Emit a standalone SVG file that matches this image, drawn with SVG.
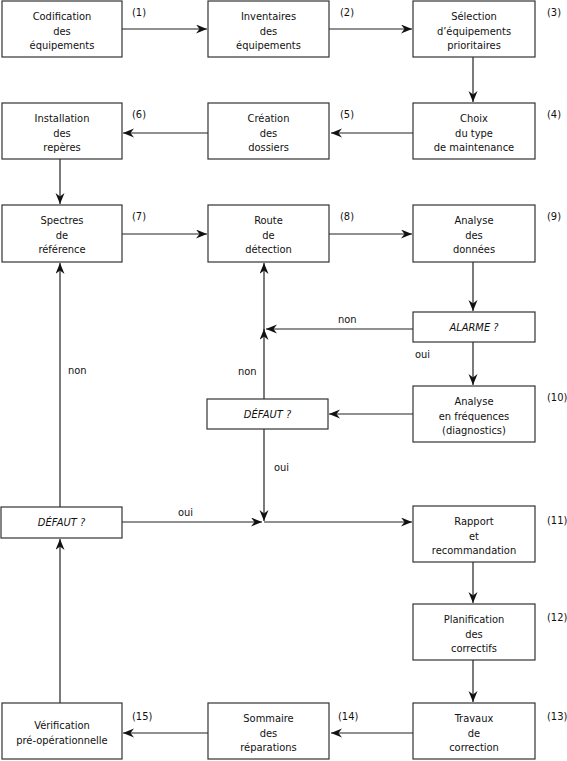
<svg xmlns="http://www.w3.org/2000/svg" width="567" height="761" viewBox="0 0 567 761">
<style>
.b{fill:#fff;stroke:#333;stroke-width:1.2}
text{font-family:"DejaVu Sans Condensed","DejaVu Sans",sans-serif;font-size:11px;fill:#111}
.c{text-anchor:middle}
.i{font-style:italic}
.l{fill:none;stroke:#222;stroke-width:1.2}
</style>
<defs>
<marker id="a" markerWidth="12" markerHeight="10" refX="11" refY="4.5" orient="auto" markerUnits="userSpaceOnUse">
<path d="M0,0 L11,4.5 L0,9 L3.5,4.5 Z" fill="#111"/>
</marker>
</defs>
<rect width="567" height="761" fill="#fff"/>
<g id="connectors">
<line class="l" x1="122" y1="29" x2="207" y2="29" marker-end="url(#a)"/>
<line class="l" x1="329" y1="29" x2="412" y2="29" marker-end="url(#a)"/>
<line class="l" x1="473" y1="57" x2="473" y2="102" marker-end="url(#a)"/>
<line class="l" x1="413" y1="133" x2="331" y2="133" marker-end="url(#a)"/>
<line class="l" x1="208" y1="133" x2="123" y2="133" marker-end="url(#a)"/>
<line class="l" x1="60" y1="159" x2="60" y2="204" marker-end="url(#a)"/>
<line class="l" x1="122" y1="234" x2="207" y2="234" marker-end="url(#a)"/>
<line class="l" x1="329" y1="234" x2="412" y2="234" marker-end="url(#a)"/>
<line class="l" x1="473" y1="262" x2="473" y2="311" marker-end="url(#a)"/>
<line class="l" x1="413" y1="329" x2="266" y2="329" marker-end="url(#a)"/>
<text x="338" y="323">non</text>
<line class="l" x1="473" y1="342" x2="473" y2="385" marker-end="url(#a)"/>
<text x="415" y="358">oui</text>
<line class="l" x1="413" y1="414" x2="329" y2="414" marker-end="url(#a)"/>
<line class="l" x1="264" y1="399" x2="264" y2="329" marker-end="url(#a)"/>
<line class="l" x1="264" y1="330" x2="264" y2="263" marker-end="url(#a)"/>
<text x="238" y="375">non</text>
<line class="l" x1="264" y1="429" x2="264" y2="521" marker-end="url(#a)"/>
<text x="274" y="471">oui</text>
<line class="l" x1="264" y1="522" x2="412" y2="522" marker-end="url(#a)"/>
<line class="l" x1="122" y1="522" x2="262" y2="522" marker-end="url(#a)"/>
<text x="178" y="516">oui</text>
<line class="l" x1="60" y1="507" x2="60" y2="263" marker-end="url(#a)"/>
<text x="68" y="374">non</text>
<line class="l" x1="60" y1="703" x2="60" y2="539" marker-end="url(#a)"/>
<line class="l" x1="473" y1="562" x2="473" y2="603" marker-end="url(#a)"/>
<line class="l" x1="473" y1="660" x2="473" y2="702" marker-end="url(#a)"/>
<line class="l" x1="413" y1="733" x2="331" y2="733" marker-end="url(#a)"/>
<line class="l" x1="208" y1="733" x2="123" y2="733" marker-end="url(#a)"/>
</g>
<g id="n1"><rect class="b" x="2" y="1" width="120" height="56"/><text class="c" x="62" y="20">Codification</text><text class="c" x="62" y="34.5">des</text><text class="c" x="62" y="49">équipements</text><text x="132" y="16">(1)</text></g>
<g id="n2"><rect class="b" x="208" y="1" width="121" height="56"/><text class="c" x="268.5" y="20">Inventaires</text><text class="c" x="268.5" y="34.5">des</text><text class="c" x="268.5" y="49">équipements</text><text x="340" y="16">(2)</text></g>
<g id="n3"><rect class="b" x="413" y="1" width="122" height="56"/><text class="c" x="474" y="20">Sélection</text><text class="c" x="474" y="34.5">d’équipements</text><text class="c" x="474" y="49">prioritaires</text><text x="547" y="16">(3)</text></g>
<g id="n4"><rect class="b" x="413" y="103" width="122" height="56"/><text class="c" x="474" y="122">Choix</text><text class="c" x="474" y="136.5">du type</text><text class="c" x="474" y="151">de maintenance</text><text x="547" y="118">(4)</text></g>
<g id="n5"><rect class="b" x="208" y="103" width="121" height="56"/><text class="c" x="268.5" y="122">Création</text><text class="c" x="268.5" y="136.5">des</text><text class="c" x="268.5" y="151">dossiers</text><text x="340" y="118">(5)</text></g>
<g id="n6"><rect class="b" x="2" y="103" width="120" height="56"/><text class="c" x="62" y="122">Installation</text><text class="c" x="62" y="136.5">des</text><text class="c" x="62" y="151">repères</text><text x="132" y="118">(6)</text></g>
<g id="n7"><rect class="b" x="2" y="205" width="120" height="57"/><text class="c" x="62" y="224">Spectres</text><text class="c" x="62" y="238.5">de</text><text class="c" x="62" y="253">référence</text><text x="132" y="220">(7)</text></g>
<g id="n8"><rect class="b" x="208" y="205" width="121" height="57"/><text class="c" x="268.5" y="224">Route</text><text class="c" x="268.5" y="238.5">de</text><text class="c" x="268.5" y="253">détection</text><text x="340" y="220">(8)</text></g>
<g id="n9"><rect class="b" x="413" y="205" width="122" height="57"/><text class="c" x="474" y="224">Analyse</text><text class="c" x="474" y="238.5">des</text><text class="c" x="474" y="253">données</text><text x="547" y="220">(9)</text></g>
<g id="alarme"><rect class="b" x="413" y="312" width="122" height="30"/><text class="c i" x="474" y="331">ALARME ?</text></g>
<g id="n10"><rect class="b" x="413" y="386" width="122" height="56"/><text class="c" x="474" y="405">Analyse</text><text class="c" x="474" y="419.5">en fréquences</text><text class="c" x="474" y="434">(diagnostics)</text><text x="547" y="401">(10)</text></g>
<g id="defaut1"><rect class="b" x="207" y="399" width="121" height="30"/><text class="c i" x="267.5" y="418">DÉFAUT ?</text></g>
<g id="defaut2"><rect class="b" x="1" y="507" width="121" height="31"/><text class="c i" x="61.5" y="526">DÉFAUT ?</text></g>
<g id="n11"><rect class="b" x="413" y="506" width="122" height="56"/><text class="c" x="474" y="525">Rapport</text><text class="c" x="474" y="539.5">et</text><text class="c" x="474" y="554">recommandation</text><text x="547" y="524">(11)</text></g>
<g id="n12"><rect class="b" x="413" y="604" width="122" height="56"/><text class="c" x="474" y="623">Planification</text><text class="c" x="474" y="637.5">des</text><text class="c" x="474" y="652">correctifs</text><text x="547" y="621">(12)</text></g>
<g id="n13"><rect class="b" x="413" y="703" width="122" height="56"/><text class="c" x="474" y="722">Travaux</text><text class="c" x="474" y="736.5">de</text><text class="c" x="474" y="751">correction</text><text x="547" y="720">(13)</text></g>
<g id="n14"><rect class="b" x="208" y="703" width="121" height="56"/><text class="c" x="268.5" y="722">Sommaire</text><text class="c" x="268.5" y="736.5">des</text><text class="c" x="268.5" y="751">réparations</text><text x="338" y="720">(14)</text></g>
<g id="n15"><rect class="b" x="2" y="703" width="120" height="56"/><text class="c" x="62" y="729">Vérification</text><text class="c" x="62" y="743.5">pré-opérationnelle</text><text x="132" y="720">(15)</text></g>
</svg>
